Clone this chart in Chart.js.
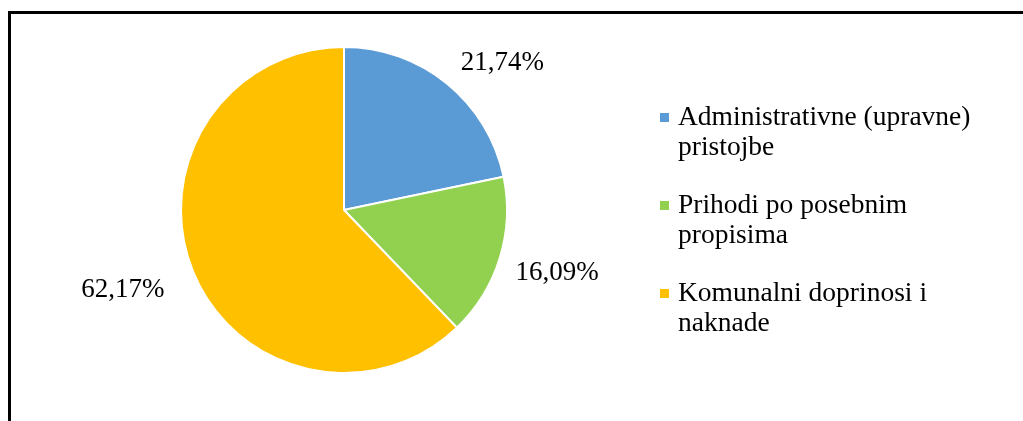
<!DOCTYPE html>
<html>
<head>
<meta charset="utf-8">
<script src="https://cdn.jsdelivr.net/npm/chart.js@4"></script>
<style>
  html, body { margin: 0; padding: 0; background: #fff; }
  .wrap { position: relative; width: 1023px; height: 421px; overflow: hidden; }
  .frame {
    position: absolute; left: 8px; top: 11px; width: 1100px; height: 500px;
    border-top: 3px solid #000; border-left: 3px solid #000;
  }
  canvas { position: absolute; left: 0; top: 0; }
</style>
</head>
<body>
<div class="wrap">
  <div class="frame"></div>
  <canvas id="pie" width="1023" height="421"></canvas>
</div>
<script>
const categories = [
  ['Administrativne (upravne)', 'pristojbe'],
  ['Prihodi po posebnim', 'propisima'],
  ['Komunalni doprinosi i', 'naknade']
];
const shares = [21.74, 16.09, 62.17];
const sliceColors = ['#5B9BD5', '#92D050', '#FFC000'];

const FONT = '"Liberation Serif", "Times New Roman", serif';

// percentage labels outside each slice
const pctLabels = {
  id: 'pctLabels',
  afterDatasetsDraw(chart, args, opts) {
    const ctx = chart.ctx;
    const meta = chart.getDatasetMeta(0);
    ctx.save();
    ctx.font = opts.size + 'px ' + FONT;
    ctx.fillStyle = '#000';
    ctx.textAlign = 'center';
    ctx.textBaseline = 'middle';
    meta.data.forEach((arc, i) => {
      const p = arc.getProps(['x', 'y', 'startAngle', 'endAngle', 'outerRadius'], true);
      const mid = (p.startAngle + p.endAngle) / 2;
      const d = p.outerRadius + opts.distance;
      const n = opts.nudge[i] || [0, 0];
      const txt = shares[i].toFixed(2).replace('.', ',') + '%';
      ctx.fillText(txt, p.x + Math.cos(mid) * d + n[0], p.y + Math.sin(mid) * d + n[1]);
    });
    ctx.restore();
  }
};

// legend on the right, wrapped in two lines like the original
const sideLegend = {
  id: 'sideLegend',
  afterDraw(chart, args, opts) {
    const ctx = chart.ctx;
    ctx.save();
    ctx.font = opts.size + 'px ' + FONT;
    ctx.textAlign = 'left';
    ctx.textBaseline = 'alphabetic';
    categories.forEach((lines, i) => {
      const base = opts.top + i * opts.itemGap;
      ctx.fillStyle = sliceColors[i];
      ctx.fillRect(opts.left, base - opts.box - 3, opts.box, opts.box);
      ctx.fillStyle = '#000';
      lines.forEach((ln, j) => {
        ctx.fillText(ln, opts.left + opts.textOffset, base + j * opts.lineHeight);
      });
    });
    ctx.restore();
  }
};

new Chart(document.getElementById('pie'), {
  type: 'pie',
  data: {
    labels: categories.map(c => c.join(' ')),
    datasets: [{
      data: shares,
      backgroundColor: sliceColors,
      borderColor: '#fff',
      borderWidth: 2
    }]
  },
  options: {
    responsive: false,
    animation: false,
    layout: { padding: { left: 180, right: 515, top: 46, bottom: 47 } },
    plugins: {
      legend: { display: false },
      tooltip: { enabled: false },
      pctLabels: { size: 27, distance: 58, nudge: [[19, 24], [2, -3], [-16, -3]] },
      sideLegend: { size: 27.5, left: 660, top: 125, itemGap: 88, lineHeight: 30, box: 9, textOffset: 18 }
    }
  },
  plugins: [pctLabels, sideLegend]
});
</script>
</body>
</html>
